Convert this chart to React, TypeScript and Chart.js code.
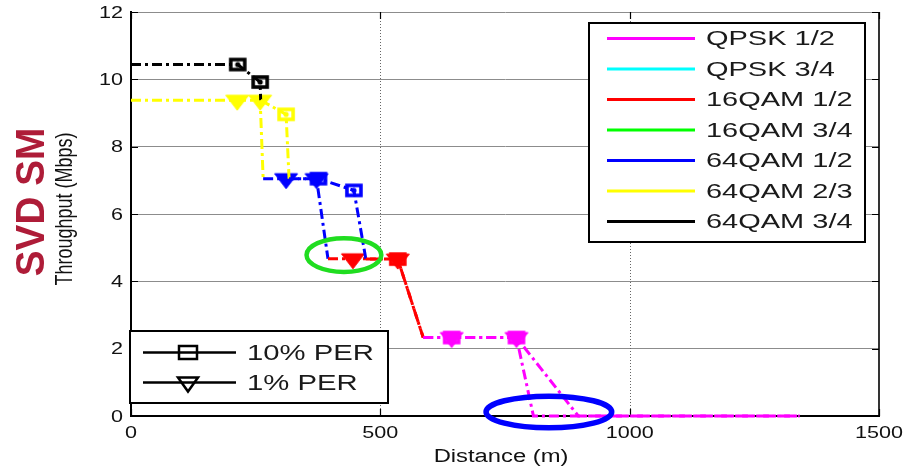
import React, { useEffect, useRef } from "react";
import { Chart, registerables } from "chart.js";

Chart.register(...registerables);

// ---------------- data ----------------
const modulations = ["QPSK 1/2", "QPSK 3/4", "16QAM 1/2", "16QAM 3/4", "64QAM 1/2", "64QAM 2/3", "64QAM 3/4"];
const modulationColors = ["#ff00ff", "#00ffff", "#ff0000", "#00ff00", "#0000ff", "#ffff00", "#000000"];

const xTicks = [0, 500, 1000, 1500];
const yTicks = [0, 2, 4, 6, 8, 10, 12];

const xTitle = "Distance (m)";
const yTitle = "Throughput (Mbps)";
const sideTitle = "SVD SM";
const perLabels = ["10% PER", "1% PER"];

// 10% PER curve (square markers)
const per10Distance = [0, 214, 259, 260, 311, 317, 376, 447, 471, 535, 586, 643, 773, 897, 1341];
const per10Throughput = [10.44, 10.44, 9.92, 9.38, 8.96, 7.05, 7.05, 6.7, 4.66, 4.66, 2.33, 2.33, 2.33, 0, 0];
const per10Mode = ["64QAM 3/4", "64QAM 3/4", "64QAM 3/4", "64QAM 2/3", "64QAM 2/3", "64QAM 1/2", "64QAM 1/2", "64QAM 1/2", "16QAM 1/2", "16QAM 1/2", "QPSK 1/2", "QPSK 1/2", "QPSK 1/2", "QPSK 1/2", "QPSK 1/2"];
const per10Marked = [false, true, true, false, true, false, true, true, false, true, false, true, true, false, false];

// 1% PER curve (triangle markers)
const per1Distance = [0, 213, 259, 265, 311, 372, 395, 445, 535, 586, 643, 773, 807, 1341];
const per1Throughput = [9.38, 9.38, 9.38, 7.05, 7.05, 7.05, 4.67, 4.67, 4.66, 2.33, 2.33, 2.33, 0, 0];
const per1Mode = ["64QAM 2/3", "64QAM 2/3", "64QAM 2/3", "64QAM 1/2", "64QAM 1/2", "64QAM 1/2", "16QAM 1/2", "16QAM 1/2", "16QAM 1/2", "QPSK 1/2", "QPSK 1/2", "QPSK 1/2", "QPSK 1/2", "QPSK 1/2"];
const per1Marked = [false, true, true, false, true, true, false, true, true, false, true, true, false, false];

// highlight ellipses (data coordinates: centre distance, centre throughput, radius distance, radius throughput)
const highlightCx = [427, 838];
const highlightCy = [4.78, 0.12];
const highlightRx = [75, 126];
const highlightRy = [0.5, 0.47];
const highlightColor = ["#20dd20", "#0000ff"];
const highlightWidth = [4.5, 5.5];

// ---------------- helpers ----------------
const FONT = '"Liberation Sans", Arial, Helvetica, sans-serif';
const colorOf = (m: string) => modulationColors[modulations.indexOf(m)];

function makeCanvas(w: number, h: number) {
  const c = document.createElement("canvas");
  c.width = w;
  c.height = h;
  return c;
}

function squareMarker(color: string) {
  const c = makeCanvas(24, 20);
  const g = c.getContext("2d")!;
  g.strokeStyle = color;
  g.lineWidth = 3.6;
  g.strokeRect(12 - 7, 10 - 5, 14, 10);
  g.fillStyle = color;
  g.beginPath();
  g.arc(12, 10, 2.6, 0, Math.PI * 2);
  g.fill();
  return c;
}

function triangleMarker(color: string) {
  const c = makeCanvas(26, 30);
  const g = c.getContext("2d")!;
  g.fillStyle = color;
  g.strokeStyle = color;
  g.lineWidth = 1;
  g.beginPath();
  g.moveTo(1.5, 10);
  g.lineTo(24.5, 10);
  g.lineTo(13, 25);
  g.closePath();
  g.fill();
  g.stroke();
  return c;
}

function drawText(
  ctx: CanvasRenderingContext2D,
  s: string,
  x: number,
  y: number,
  font: string,
  sx: number,
  align: CanvasTextAlign,
  color = "#111"
) {
  ctx.save();
  ctx.translate(x, y);
  ctx.scale(sx, 1);
  ctx.font = font;
  ctx.textAlign = align;
  ctx.textBaseline = "middle";
  ctx.fillStyle = color;
  ctx.fillText(s, 0, 0);
  ctx.restore();
}

function drawRotated(
  ctx: CanvasRenderingContext2D,
  s: string,
  cx: number,
  cy: number,
  font: string,
  along: number,
  across: number,
  color: string
) {
  ctx.save();
  ctx.translate(cx, cy);
  ctx.rotate(-Math.PI / 2);
  ctx.scale(along, across);
  ctx.font = font;
  ctx.textAlign = "center";
  ctx.textBaseline = "middle";
  ctx.fillStyle = color;
  ctx.fillText(s, 0, 0);
  ctx.restore();
}

const decorPlugin = {
  id: "decor",
  beforeDatasetsDraw(chart: any) {
    const { ctx, chartArea: a, scales } = chart;
    const x = scales.x;
    const y = scales.y;
    ctx.save();
    // dotted vertical grid
    ctx.strokeStyle = "#666";
    ctx.lineWidth = 1;
    ctx.setLineDash([1, 2]);
    for (let i = 1; i < xTicks.length - 1; i++) {
      const px = Math.round(x.getPixelForValue(xTicks[i])) + 0.5;
      ctx.beginPath();
      ctx.moveTo(px, a.top);
      ctx.lineTo(px, a.bottom);
      ctx.stroke();
    }
    ctx.setLineDash([]);
    // inward ticks
    ctx.strokeStyle = "#000";
    ctx.lineWidth = 1.2;
    for (const v of yTicks) {
      const py = Math.round(y.getPixelForValue(v)) + 0.5;
      ctx.beginPath();
      ctx.moveTo(a.left, py);
      ctx.lineTo(a.left + 7, py);
      ctx.moveTo(a.right - 7, py);
      ctx.lineTo(a.right, py);
      ctx.stroke();
    }
    for (const v of xTicks) {
      const px = Math.round(x.getPixelForValue(v)) + 0.5;
      ctx.beginPath();
      ctx.moveTo(px, a.bottom);
      ctx.lineTo(px, a.bottom - 7);
      ctx.moveTo(px, a.top);
      ctx.lineTo(px, a.top + 7);
      ctx.stroke();
    }
    // right border
    ctx.lineWidth = 1.6;
    ctx.beginPath();
    ctx.moveTo(a.right, a.top);
    ctx.lineTo(a.right, a.bottom);
    ctx.stroke();
    ctx.restore();
  },
  afterDatasetsDraw(chart: any) {
    const { ctx, scales } = chart;
    const x = scales.x;
    const y = scales.y;
    ctx.save();
    // ellipses
    for (let i = 0; i < highlightCx.length; i++) {
      const cx = x.getPixelForValue(highlightCx[i]);
      const cy = y.getPixelForValue(highlightCy[i]);
      const rx = x.getPixelForValue(highlightCx[i] + highlightRx[i]) - cx;
      const ry = cy - y.getPixelForValue(highlightCy[i] + highlightRy[i]);
      ctx.strokeStyle = highlightColor[i];
      ctx.lineWidth = highlightWidth[i];
      ctx.beginPath();
      ctx.ellipse(cx, cy, rx, ry, 0, 0, Math.PI * 2);
      ctx.stroke();
    }

    // modulation legend (top right)
    const L1 = { left: 589, top: 23, right: 865, bottom: 242 };
    ctx.fillStyle = "#fff";
    ctx.fillRect(L1.left, L1.top, L1.right - L1.left, L1.bottom - L1.top);
    ctx.strokeStyle = "#000";
    ctx.lineWidth = 2;
    ctx.strokeRect(L1.left, L1.top, L1.right - L1.left, L1.bottom - L1.top);
    modulations.forEach((m, i) => {
      const ry = 38.5 + i * 30.5;
      ctx.strokeStyle = modulationColors[i];
      ctx.lineWidth = 3;
      ctx.beginPath();
      ctx.moveTo(607, ry);
      ctx.lineTo(695, ry);
      ctx.stroke();
      drawText(ctx, m, 706, ry + 1, `21px ${FONT}`, 1.38, "left", "#1a1a1a");
    });

    // PER legend (bottom left)
    const L2 = { left: 130, top: 331, right: 388, bottom: 403 };
    ctx.fillStyle = "#fff";
    ctx.fillRect(L2.left, L2.top, L2.right - L2.left, L2.bottom - L2.top);
    ctx.strokeStyle = "#000";
    ctx.lineWidth = 2;
    ctx.strokeRect(L2.left, L2.top, L2.right - L2.left, L2.bottom - L2.top);
    perLabels.forEach((lab, i) => {
      const ry = 352.5 + i * 30;
      ctx.strokeStyle = "#000";
      ctx.lineWidth = 2.5;
      ctx.beginPath();
      ctx.moveTo(143, ry);
      ctx.lineTo(236, ry);
      ctx.stroke();
      ctx.lineWidth = 2.5;
      if (i === 0) {
        ctx.strokeRect(188 - 9, ry - 6.5, 18, 13);
      } else {
        ctx.beginPath();
        ctx.moveTo(188 - 10, ry - 5);
        ctx.lineTo(188 + 10, ry - 5);
        ctx.lineTo(188, ry + 9);
        ctx.closePath();
        ctx.stroke();
      }
      drawText(ctx, lab, 247, ry + 1, `22px ${FONT}`, 1.33, "left", "#1a1a1a");
    });
    ctx.restore();
  },
  afterDraw(chart: any) {
    const { ctx, chartArea: a, scales } = chart;
    const x = scales.x;
    const y = scales.y;
    ctx.save();
    for (const v of yTicks) {
      drawText(ctx, String(v), a.left - 8, y.getPixelForValue(v) + 1, `17px ${FONT}`, 1.27, "right");
    }
    for (const v of xTicks) {
      drawText(ctx, String(v), x.getPixelForValue(v), a.bottom + 17, `17px ${FONT}`, 1.27, "center");
    }
    drawText(ctx, xTitle, (a.left + a.right) / 2 - 4, 457, `18px ${FONT}`, 1.32, "center");
    drawRotated(ctx, yTitle, 66, 209, `18px ${FONT}`, 1.0, 1.3, "#111");
    drawRotated(ctx, sideTitle, 33, 202, `bold 34px ${FONT}`, 1.14, 1.17, "#ae1c38");
    ctx.restore();
  },
};

export default function App() {
  const ref = useRef<HTMLCanvasElement | null>(null);

  useEffect(() => {
    if (!ref.current) return;
    const sq: Record<string, HTMLCanvasElement> = {};
    const tri: Record<string, HTMLCanvasElement> = {};
    modulations.forEach((m, i) => {
      sq[m] = squareMarker(modulationColors[i]);
      tri[m] = triangleMarker(modulationColors[i]);
    });

    const makeSet = (
      label: string,
      xs: number[],
      ys: number[],
      modes: string[],
      marked: boolean[],
      markers: Record<string, HTMLCanvasElement>,
      order: number
    ) => ({
      label,
      data: xs.map((d, i) => ({ x: d, y: ys[i] })),
      borderWidth: 3,
      borderDash: [10, 4, 3, 4],
      borderColor: colorOf(modes[0]),
      segment: {
        borderColor: (c: any) => colorOf(modes[c.p0DataIndex]),
      },
      pointStyle: modes.map((m) => markers[m]),
      pointRadius: marked.map((k) => (k ? 8 : 0)),
      pointBackgroundColor: modes.map((m) => colorOf(m)),
      pointBorderColor: modes.map((m) => colorOf(m)),
      fill: false,
      tension: 0,
      clip: 6,
      order,
    });

    const chart = new Chart(ref.current, {
      type: "line",
      data: {
        datasets: [
          makeSet(perLabels[0], per10Distance, per10Throughput, per10Mode, per10Marked, sq, 0),
          makeSet(perLabels[1], per1Distance, per1Throughput, per1Mode, per1Marked, tri, 1),
        ],
      },
      options: {
        responsive: false,
        animation: false,
        events: [],
        layout: { padding: { top: 12, right: 39, left: 0, bottom: 0 } },
        plugins: {
          legend: { display: false },
          tooltip: { enabled: false },
          title: { display: false },
        },
        scales: {
          x: {
            type: "linear",
            min: 0,
            max: 1500,
            ticks: { display: false, stepSize: 500 },
            grid: { display: false },
            border: { display: true, color: "#000", width: 2 },
            afterFit: (s: any) => {
              s.height = 53;
            },
          },
          y: {
            type: "linear",
            min: 0,
            max: 12,
            ticks: { display: false, stepSize: 2 },
            grid: { display: true, color: "#8c8c8c", lineWidth: 1, drawTicks: false },
            border: { display: true, color: "#000", width: 2 },
            afterFit: (s: any) => {
              s.width = 131;
            },
          },
        },
      },
      plugins: [decorPlugin],
    } as any);
    return () => chart.destroy();
  }, []);

  return (
    <div style={{ position: "fixed", left: 0, top: 0, width: 918, height: 469, background: "#fff" }}>
      <canvas ref={ref} width={918} height={469} style={{ display: "block" }} />
    </div>
  );
}
